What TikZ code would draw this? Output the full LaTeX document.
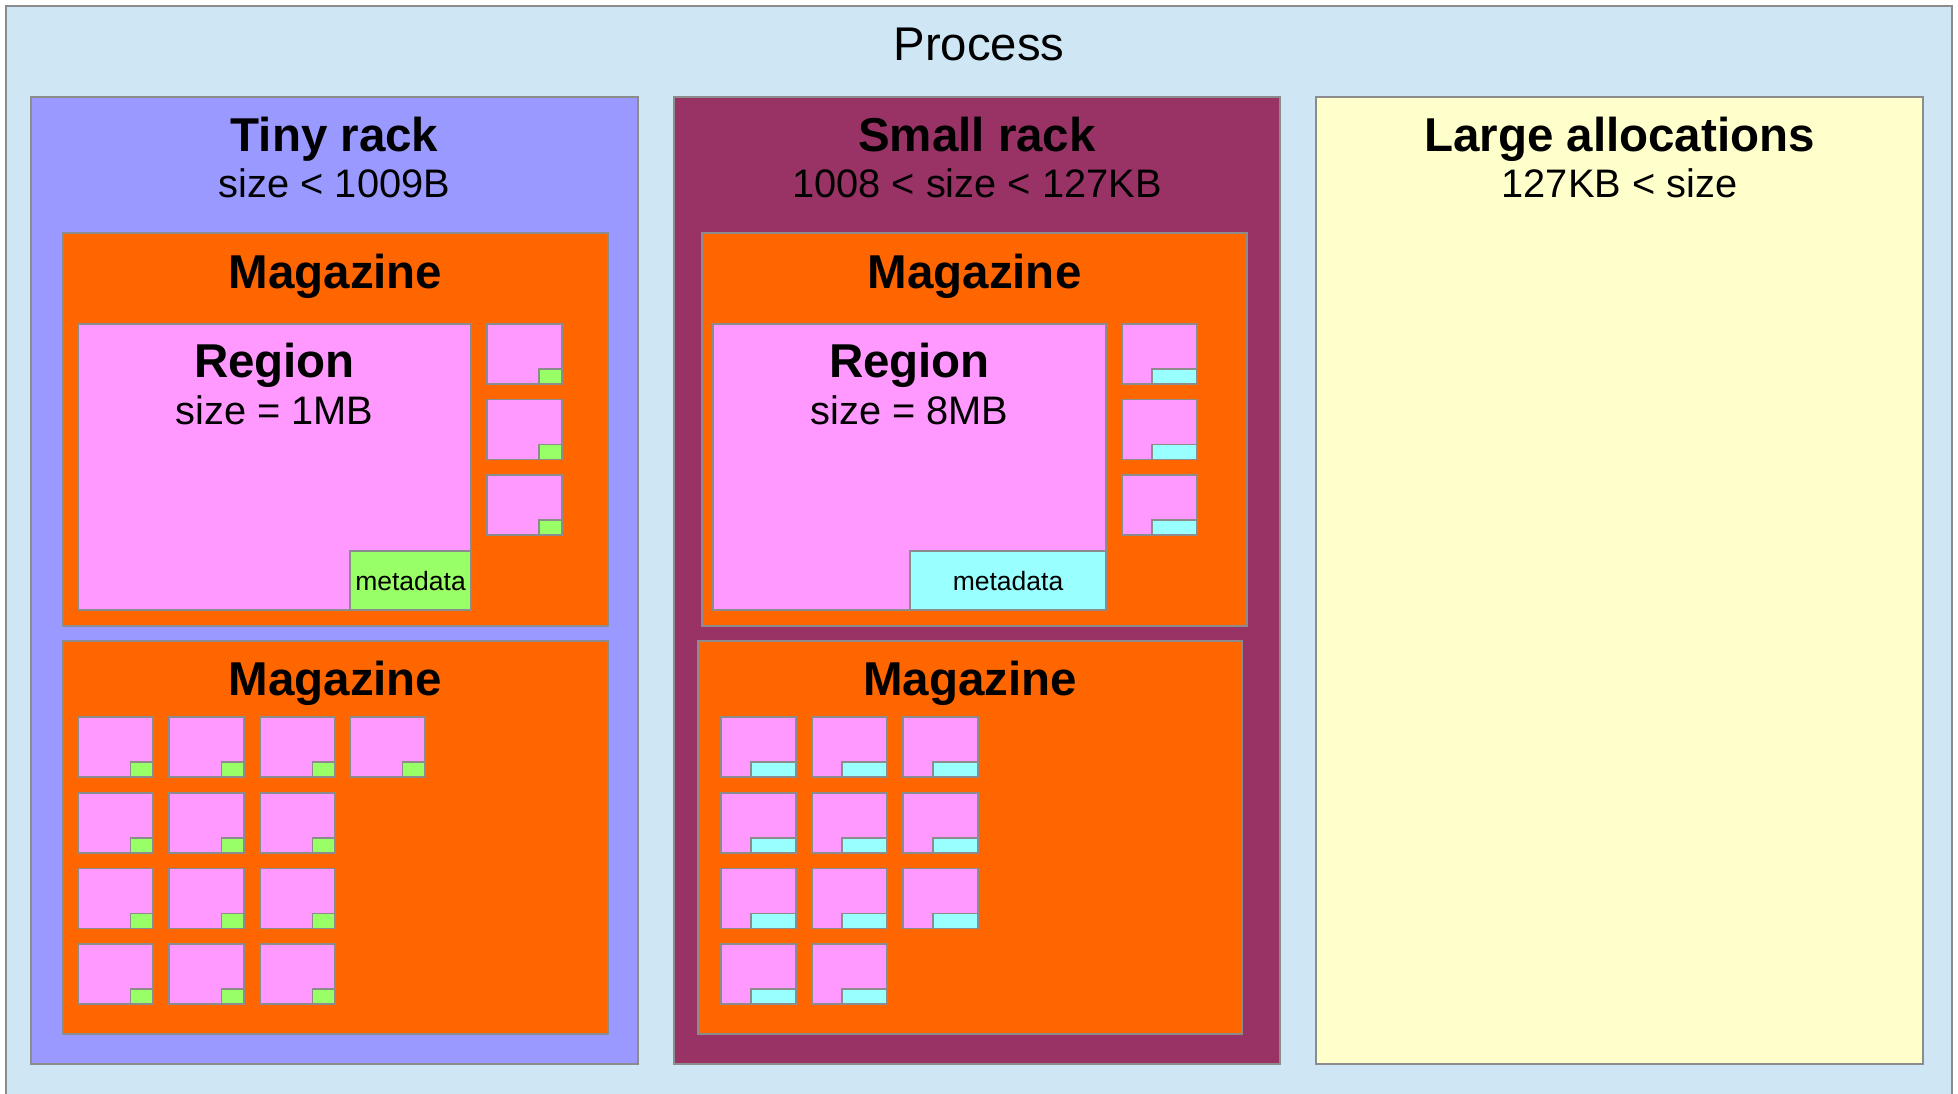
\documentclass[tikz,border=0pt]{standalone}
\usepackage{fontspec}
\setmainfont{Liberation Sans}
\definecolor{procbg}{HTML}{CFE7F5}
\definecolor{tinyc}{HTML}{9999FF}
\definecolor{smallc}{HTML}{993366}
\definecolor{largec}{HTML}{FFFFCC}
\definecolor{magc}{HTML}{FF6600}
\definecolor{regc}{HTML}{FF99FF}
\definecolor{greenc}{HTML}{99FF66}
\definecolor{cyanc}{HTML}{99FFFF}
\definecolor{edgec}{HTML}{8C8C8C}
\tikzset{
  boxst/.style={draw=edgec, line width=1.2pt, rectangle, inner sep=0pt, outer sep=0pt, anchor=north west},
  titlest/.style={anchor=base, inner sep=0pt, font=\fontsize{47.5}{50}\selectfont\bfseries},
  subst/.style={anchor=base, inner sep=0pt, font=\fontsize{39.8}{42}\selectfont},
  procst/.style={anchor=base, inner sep=0pt, font=\fontsize{47.3}{50}\selectfont},
  metast/.style={anchor=base, inner sep=0pt, font=\fontsize{26.5}{28}\selectfont},
}
% \mybox{name}{x1}{y1}{x2}{y2}{fill}
\newcommand\mybox[6]{\node[boxst, fill=#6, minimum width={(#4-#2)*1pt}, minimum height={(#5-#3)*1pt}] (#1) at (#2,#3) {};}
% \mychunk{name}{x}{y}{tabw}{tabcolor}
\newcommand\mychunk[5]{%
  \node[boxst, fill=regc, minimum width=75pt, minimum height=60pt] (#1) at (#2,#3) {};
  \node[boxst, fill=#5, anchor=south east, minimum width={#4*1pt}, minimum height=15pt] (#1t) at (#1.south east) {};
}
\begin{document}
\begin{tikzpicture}[x=1pt, y=-1pt]
\useasboundingbox (0,0) rectangle (1958,1093);
\fill[white] (0,0) rectangle (1958,1093);
\clip (0,0) rectangle (1958,1093);
% process
\mybox{proc}{6}{6}{1952}{1110}{procbg}
\node[procst] (proct) at (979,60) {Process};
% racks
\mybox{tiny}{31}{97}{638}{1064}{tinyc}
\mybox{small}{674}{97}{1280}{1064}{smallc}
\mybox{large}{1316}{97}{1923}{1064}{largec}
\node[titlest] (tinyt) at (334.5,151) {Tiny rack};
\node[subst] (tinys) at (334.5,197) {size < 1009B};
\node[titlest] (smallt) at (977,151) {Small rack};
\node[subst] (smalls) at (977,197) {1008 < size < 127KB};
\node[titlest] (larget) at (1619.5,151) {Large allocations};
\node[subst] (larges) at (1619.5,197) {127KB < size};
% tiny magazines
\mybox{tm1}{63}{233}{608}{626}{magc}
\node[titlest] (tm1t) at (335.5,288) {Magazine};
\mybox{tr}{78}{324}{471}{610}{regc}
\node[titlest] (trt) at (274.5,377) {Region};
\node[subst] (trs) at (274.5,424) {size = 1MB};
\mybox{tmeta}{350}{551}{471}{610}{greenc}
\node[metast] (tmetat) at (410.5,590) {metadata};
\mychunk{ts1}{487}{324}{23}{greenc}
\mychunk{ts2}{487}{399.5}{23}{greenc}
\mychunk{ts3}{487}{475}{23}{greenc}
\mybox{tm2}{63}{641}{608}{1034}{magc}
\node[titlest] (tm2t) at (335.5,695) {Magazine};
\mychunk{tg11}{78}{717}{22.5}{greenc}
\mychunk{tg12}{169}{717}{22.5}{greenc}
\mychunk{tg13}{260}{717}{22.5}{greenc}
\mychunk{tg14}{350}{717}{22.5}{greenc}
\mychunk{tg21}{78}{793}{22.5}{greenc}
\mychunk{tg22}{169}{793}{22.5}{greenc}
\mychunk{tg23}{260}{793}{22.5}{greenc}
\mychunk{tg31}{78}{868.5}{22.5}{greenc}
\mychunk{tg32}{169}{868.5}{22.5}{greenc}
\mychunk{tg33}{260}{868.5}{22.5}{greenc}
\mychunk{tg41}{78}{944}{22.5}{greenc}
\mychunk{tg42}{169}{944}{22.5}{greenc}
\mychunk{tg43}{260}{944}{22.5}{greenc}
% small magazines
\mybox{sm1}{702}{233}{1247}{626}{magc}
\node[titlest] (sm1t) at (974.5,288) {Magazine};
\mybox{sr}{713}{324}{1106}{610}{regc}
\node[titlest] (srt) at (909.5,377) {Region};
\node[subst] (srs) at (909.5,424) {size = 8MB};
\mybox{smeta}{910}{551}{1106}{610}{cyanc}
\node[metast] (smetat) at (1008,590) {metadata};
\mychunk{ss1}{1122}{324}{45}{cyanc}
\mychunk{ss2}{1122}{399.5}{45}{cyanc}
\mychunk{ss3}{1122}{475}{45}{cyanc}
\mybox{sm2}{698}{641}{1242}{1034}{magc}
\node[titlest] (sm2t) at (970,695) {Magazine};
\mychunk{sg11}{721}{717}{45}{cyanc}
\mychunk{sg12}{812}{717}{45}{cyanc}
\mychunk{sg13}{903}{717}{45}{cyanc}
\mychunk{sg21}{721}{793}{45}{cyanc}
\mychunk{sg22}{812}{793}{45}{cyanc}
\mychunk{sg23}{903}{793}{45}{cyanc}
\mychunk{sg31}{721}{868.5}{45}{cyanc}
\mychunk{sg32}{812}{868.5}{45}{cyanc}
\mychunk{sg33}{903}{868.5}{45}{cyanc}
\mychunk{sg41}{721}{944}{45}{cyanc}
\mychunk{sg42}{812}{944}{45}{cyanc}
\end{tikzpicture}
\end{document}
